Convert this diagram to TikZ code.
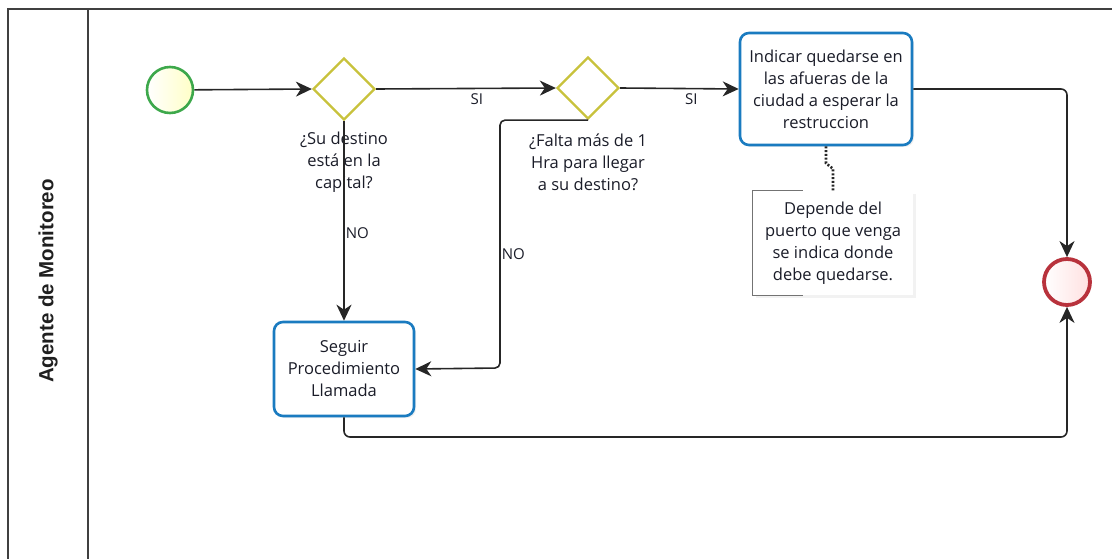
\documentclass[tikz,border=0pt]{standalone}
\usepackage{fontspec}
\setmainfont{Open Sans}
\setsansfont{Liberation Sans}
\usetikzlibrary{arrows.meta,shapes.geometric,shadows,calc}

\definecolor{flowline}{HTML}{262626}
\definecolor{taskblue}{HTML}{1A7BC0}
\definecolor{gwyellow}{HTML}{C8C23C}
\definecolor{startgreen}{HTML}{3DA84B}
\definecolor{endred}{HTML}{B8323C}
\definecolor{txt}{HTML}{1A1C28}

\begin{document}
\begin{tikzpicture}[x=1pt,y=-1pt,
  every node/.style={text=txt, font=\fontsize{16.5}{22}\selectfont},
  pool/.style={draw=black!75, line width=1.5pt},
  taskbox/.style={draw=taskblue, line width=2.6pt, rounded corners=9pt, fill=white,
    align=center, inner sep=2pt,
    drop shadow={opacity=0.12, shadow xshift=2pt, shadow yshift=-2pt}},
  gateway/.style={diamond, draw=gwyellow, line width=2.3pt, fill=white, aspect=1,
    minimum width=62pt, minimum height=62pt, inner sep=0pt},
  startev/.style={circle, draw=startgreen, line width=2.6pt, minimum size=46pt,
    inner sep=0pt, left color=white, right color=yellow!22},
  endev/.style={circle, draw=endred, line width=3.8pt, minimum size=46pt,
    inner sep=0pt, left color=white, right color=red!12},
  flow/.style={draw=flowline, line width=1.6pt,
    -{Stealth[length=16pt,width=15pt,inset=5pt]}},
  lbl/.style={font=\fontsize{15}{18}\selectfont, inner sep=1pt},
  qlabel/.style={align=center, inner sep=0pt},
  assoc/.style={draw=black!85, line width=2.6pt, dash pattern=on 2pt off 1.8pt},
]
\useasboundingbox (0,0) rectangle (1112,559);

% pool and lane header
\draw[pool] (1112,9) -- (8,9) -- (8,559);
\draw[pool] (88,9) -- (88,559);
\node[rotate=90, font=\sffamily\bfseries\fontsize{20.5}{24}\selectfont, text=black!88]
  (lane) at (48,281) {Agente de Monitoreo};

% flow objects
\node[startev] (start) at (170,90) {};
\node[gateway] (gw1) at (344,89) {};
\node[gateway] (gw2) at (588,88) {};
\node[taskbox, minimum width=172pt, minimum height=112pt] (t1) at (826,89)
  {Indicar quedarse en\\las afueras de la\\ciudad a esperar la\\restruccion};
\node[taskbox, minimum width=140pt, minimum height=94pt] (t2) at (344,369)
  {Seguir\\Procedimiento\\Llamada};
\node[endev] (end) at (1067,282) {};

% gateway questions
\node[qlabel] (q1) at (344,162) {¿Su destino\\está en la\\capital?};
\node[qlabel] (q2) at (588,162) {¿Falta más de 1\\Hra para llegar\\a su destino?};

% text annotation
\node[fill=white, minimum width=160pt, minimum height=104pt, align=center,
  drop shadow={opacity=0.10, shadow xshift=3pt, shadow yshift=-3pt}]
  (note) at (833,243) {Depende del\\puerto que venga\\se indica donde\\debe quedarse.};
\draw[black!55, line width=0.9pt]
  ($(note.north west)+(50,0)$) -- (note.north west) -- (note.south west)
  -- ($(note.south west)+(50,0)$);
\draw[assoc] (t1.south) -- ++(0,17) -- ($(note.north)+(0,-22)$) -- (note.north);

% sequence flows
\coordinate (b2) at (500,368);
\coordinate (b3) at (1067,437);
\draw[flow] (start) -- (gw1.west);
\draw[flow] (gw1.east) -- node[lbl, pos=0.56, below=3pt] {SI} (gw2.west);
\draw[flow] (gw2.east) -- node[lbl, pos=0.6, below=3pt] {SI} (t1.west);
\draw[flow] (gw1.south) -- node[lbl, pos=0.56, anchor=west] {NO} (t2.north);
\draw[flow, rounded corners=5pt] (gw2.south) -| node[lbl, pos=0.77, anchor=west] {NO} (b2) -- (t2.east);
\draw[flow, rounded corners=6pt] (t1.east) -| (end.north);
\draw[flow, rounded corners=6pt] (t2.south) |- (b3) -- (end.south);
\end{tikzpicture}
\end{document}
